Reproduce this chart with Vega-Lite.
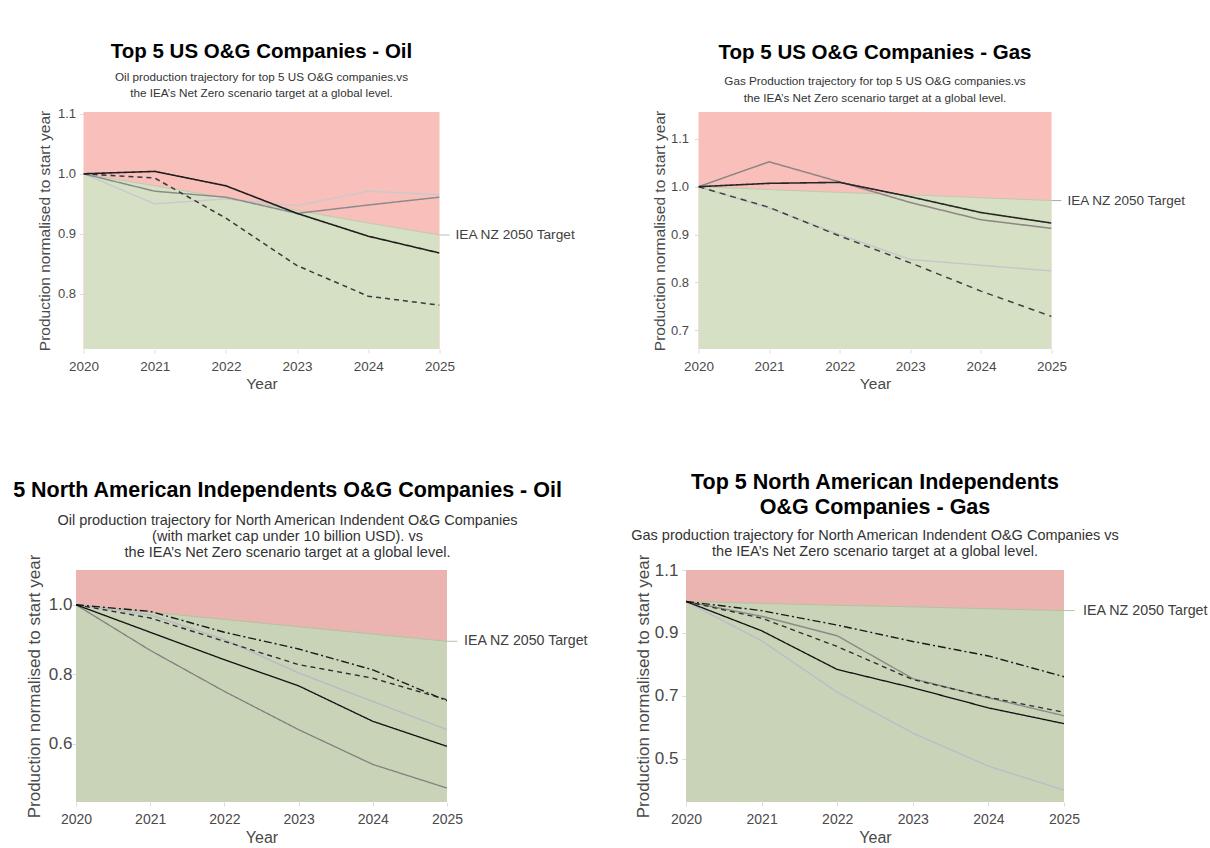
{
  "$schema": "https://vega.github.io/schema/vega-lite/v6.json",
  "background": "white",
  "padding": {"left": 12, "top": 41, "right": 0, "bottom": 0},
  "spacing": 41,
  "resolve": {"scale": {"color": "independent", "strokeDash": "independent", "strokeWidth": "independent"}},
  "config": {
    "font": "Liberation Sans",
    "view": {"stroke": null},
    "axis": {"grid": false, "domain": false, "ticks": true, "tickColor": "#dcdcdc", "tickSize": 4, "labelColor": "#4a4a4a", "titleColor": "#4a4a4a", "titleFontWeight": "normal", "labelFont": "Liberation Sans", "titleFont": "Liberation Sans", "labelFlush": false},
    "title": {"color": "#000000", "fontWeight": "bold", "subtitleColor": "#333333", "anchor": "middle", "frame": "group", "font": "Liberation Sans", "subtitleFont": "Liberation Sans"}
  },
  "datasets": {
    "oilUS": [
      {"Year": 2020, "Company": "D", "Production": 1.0},
      {"Year": 2021, "Company": "D", "Production": 0.95},
      {"Year": 2022, "Company": "D", "Production": 0.958},
      {"Year": 2023, "Company": "D", "Production": 0.947},
      {"Year": 2024, "Company": "D", "Production": 0.971},
      {"Year": 2025, "Company": "D", "Production": 0.965},
      {"Year": 2020, "Company": "C", "Production": 1.0},
      {"Year": 2021, "Company": "C", "Production": 0.971},
      {"Year": 2022, "Company": "C", "Production": 0.961},
      {"Year": 2023, "Company": "C", "Production": 0.934},
      {"Year": 2024, "Company": "C", "Production": 0.948},
      {"Year": 2025, "Company": "C", "Production": 0.961},
      {"Year": 2020, "Company": "B", "Production": 1.0},
      {"Year": 2021, "Company": "B", "Production": 0.993},
      {"Year": 2022, "Company": "B", "Production": 0.926},
      {"Year": 2023, "Company": "B", "Production": 0.847},
      {"Year": 2024, "Company": "B", "Production": 0.796},
      {"Year": 2025, "Company": "B", "Production": 0.781},
      {"Year": 2020, "Company": "A", "Production": 1.0},
      {"Year": 2021, "Company": "A", "Production": 1.004},
      {"Year": 2022, "Company": "A", "Production": 0.98},
      {"Year": 2023, "Company": "A", "Production": 0.934},
      {"Year": 2024, "Company": "A", "Production": 0.896},
      {"Year": 2025, "Company": "A", "Production": 0.868}
    ],
    "targetOilUS": [
      {"Year": 2020, "Target": 1.0},
      {"Year": 2021, "Target": 0.98},
      {"Year": 2022, "Target": 0.96},
      {"Year": 2023, "Target": 0.939},
      {"Year": 2024, "Target": 0.918},
      {"Year": 2025, "Target": 0.898}
    ],
    "gasUS": [
      {"Year": 2020, "Company": "D", "Production": 1.0},
      {"Year": 2021, "Company": "D", "Production": 0.955},
      {"Year": 2022, "Company": "D", "Production": 0.9},
      {"Year": 2023, "Company": "D", "Production": 0.848},
      {"Year": 2024, "Company": "D", "Production": 0.836},
      {"Year": 2025, "Company": "D", "Production": 0.824},
      {"Year": 2020, "Company": "B", "Production": 1.0},
      {"Year": 2021, "Company": "B", "Production": 1.052},
      {"Year": 2022, "Company": "B", "Production": 1.01},
      {"Year": 2023, "Company": "B", "Production": 0.967},
      {"Year": 2024, "Company": "B", "Production": 0.931},
      {"Year": 2025, "Company": "B", "Production": 0.913},
      {"Year": 2020, "Company": "C", "Production": 1.0},
      {"Year": 2021, "Company": "C", "Production": 0.957},
      {"Year": 2022, "Company": "C", "Production": 0.897},
      {"Year": 2023, "Company": "C", "Production": 0.841},
      {"Year": 2024, "Company": "C", "Production": 0.782},
      {"Year": 2025, "Company": "C", "Production": 0.729},
      {"Year": 2020, "Company": "A", "Production": 1.0},
      {"Year": 2021, "Company": "A", "Production": 1.007},
      {"Year": 2022, "Company": "A", "Production": 1.009},
      {"Year": 2023, "Company": "A", "Production": 0.979},
      {"Year": 2024, "Company": "A", "Production": 0.946},
      {"Year": 2025, "Company": "A", "Production": 0.924}
    ],
    "targetGasUS": [
      {"Year": 2020, "Target": 1.0},
      {"Year": 2021, "Target": 0.994},
      {"Year": 2022, "Target": 0.988},
      {"Year": 2023, "Target": 0.983},
      {"Year": 2024, "Target": 0.977},
      {"Year": 2025, "Target": 0.971}
    ],
    "oilNA": [
      {"Year": 2020, "Company": "C", "Production": 1.0},
      {"Year": 2021, "Company": "C", "Production": 0.971},
      {"Year": 2022, "Company": "C", "Production": 0.9},
      {"Year": 2023, "Company": "C", "Production": 0.804},
      {"Year": 2024, "Company": "C", "Production": 0.722},
      {"Year": 2025, "Company": "C", "Production": 0.641},
      {"Year": 2020, "Company": "E", "Production": 1.0},
      {"Year": 2021, "Company": "E", "Production": 0.869},
      {"Year": 2022, "Company": "E", "Production": 0.751},
      {"Year": 2023, "Company": "E", "Production": 0.641},
      {"Year": 2024, "Company": "E", "Production": 0.541},
      {"Year": 2025, "Company": "E", "Production": 0.473},
      {"Year": 2020, "Company": "B", "Production": 1.0},
      {"Year": 2021, "Company": "B", "Production": 0.962},
      {"Year": 2022, "Company": "B", "Production": 0.895},
      {"Year": 2023, "Company": "B", "Production": 0.828},
      {"Year": 2024, "Company": "B", "Production": 0.789},
      {"Year": 2025, "Company": "B", "Production": 0.727},
      {"Year": 2020, "Company": "A", "Production": 1.0},
      {"Year": 2021, "Company": "A", "Production": 0.981},
      {"Year": 2022, "Company": "A", "Production": 0.921},
      {"Year": 2023, "Company": "A", "Production": 0.873},
      {"Year": 2024, "Company": "A", "Production": 0.813},
      {"Year": 2025, "Company": "A", "Production": 0.724},
      {"Year": 2020, "Company": "D", "Production": 1.0},
      {"Year": 2021, "Company": "D", "Production": 0.921},
      {"Year": 2022, "Company": "D", "Production": 0.842},
      {"Year": 2023, "Company": "D", "Production": 0.767},
      {"Year": 2024, "Company": "D", "Production": 0.665},
      {"Year": 2025, "Company": "D", "Production": 0.593}
    ],
    "targetOilNA": [
      {"Year": 2020, "Target": 1.0},
      {"Year": 2021, "Target": 0.979},
      {"Year": 2022, "Target": 0.958},
      {"Year": 2023, "Target": 0.937},
      {"Year": 2024, "Target": 0.916},
      {"Year": 2025, "Target": 0.895}
    ],
    "gasNA": [
      {"Year": 2020, "Company": "E", "Production": 1.0},
      {"Year": 2021, "Company": "E", "Production": 0.875},
      {"Year": 2022, "Company": "E", "Production": 0.712},
      {"Year": 2023, "Company": "E", "Production": 0.582},
      {"Year": 2024, "Company": "E", "Production": 0.477},
      {"Year": 2025, "Company": "E", "Production": 0.401},
      {"Year": 2020, "Company": "B", "Production": 1.0},
      {"Year": 2021, "Company": "B", "Production": 0.953},
      {"Year": 2022, "Company": "B", "Production": 0.891},
      {"Year": 2023, "Company": "B", "Production": 0.755},
      {"Year": 2024, "Company": "B", "Production": 0.694},
      {"Year": 2025, "Company": "B", "Production": 0.637},
      {"Year": 2020, "Company": "C", "Production": 1.0},
      {"Year": 2021, "Company": "C", "Production": 0.947},
      {"Year": 2022, "Company": "C", "Production": 0.857},
      {"Year": 2023, "Company": "C", "Production": 0.752},
      {"Year": 2024, "Company": "C", "Production": 0.696},
      {"Year": 2025, "Company": "C", "Production": 0.648},
      {"Year": 2020, "Company": "A", "Production": 1.0},
      {"Year": 2021, "Company": "A", "Production": 0.971},
      {"Year": 2022, "Company": "A", "Production": 0.925},
      {"Year": 2023, "Company": "A", "Production": 0.873},
      {"Year": 2024, "Company": "A", "Production": 0.827},
      {"Year": 2025, "Company": "A", "Production": 0.761},
      {"Year": 2020, "Company": "D", "Production": 1.0},
      {"Year": 2021, "Company": "D", "Production": 0.907},
      {"Year": 2022, "Company": "D", "Production": 0.784},
      {"Year": 2023, "Company": "D", "Production": 0.726},
      {"Year": 2024, "Company": "D", "Production": 0.662},
      {"Year": 2025, "Company": "D", "Production": 0.612}
    ],
    "targetGasNA": [
      {"Year": 2020, "Target": 1.0},
      {"Year": 2021, "Target": 0.994},
      {"Year": 2022, "Target": 0.988},
      {"Year": 2023, "Target": 0.983},
      {"Year": 2024, "Target": 0.977},
      {"Year": 2025, "Target": 0.971}
    ]
  },
  "hconcat": [
    {
      "vconcat": [
        {
          "width": 356, "height": 237,
          "view": {"fill": "#f9bfbb", "stroke": null},
          "title": {"text": "Top 5 US O&G Companies - Oil", "subtitle": ["Oil production trajectory for top 5 US O&G companies.vs", "the IEA’s Net Zero scenario target at a global level."], "fontSize": 20.5, "subtitleFontSize": 11.7, "subtitleLineHeight": 16, "subtitlePadding": 10, "offset": 8},
          "encoding": {
            "x": {"field": "Year", "type": "quantitative", "scale": {"domain": [2020, 2025], "nice": false, "zero": false}, "axis": {"values": [2020, 2021, 2022, 2023, 2024, 2025], "format": "d", "title": "Year", "labelFontSize": 13.5, "titleFontSize": 15.5, "labelPadding": 6, "titlePadding": 4}}
          },
          "layer": [
            {"data": {"name": "targetOilUS"}, "mark": {"type": "area", "color": "#d6e0c5", "clip": true},
             "encoding": {"y": {"field": "Target", "type": "quantitative", "title": "Production normalised to start year", "scale": {"domain": [0.708, 1.103], "nice": false, "zero": false}, "axis": {"values": [0.8, 0.9, 1.0, 1.1], "format": ".1f", "labelFontSize": 13, "titleFontSize": 15.5, "labelPadding": 4, "titlePadding": 5}}}},
            {"data": {"name": "targetOilUS"}, "mark": {"type": "line", "color": "#bdcca9", "strokeWidth": 1, "clip": true},
             "encoding": {"y": {"field": "Target", "type": "quantitative", "title": "Production normalised to start year"}}},
            {"data": {"name": "oilUS"}, "mark": {"type": "line", "clip": true},
             "encoding": {
               "y": {"field": "Production", "type": "quantitative", "title": "Production normalised to start year"},
               "color": {"field": "Company", "type": "nominal", "legend": null, "scale": {"domain": ["A", "B", "C", "D"], "range": ["#1e1e1e", "#3a3a3a", "#8a8a8a", "#c9c9cd"]}},
               "strokeDash": {"field": "Company", "type": "nominal", "legend": null, "scale": {"domain": ["A", "B", "C", "D"], "range": [[1, 0], [5, 4], [1, 0], [1, 0]]}},
               "strokeWidth": {"field": "Company", "type": "nominal", "legend": null, "scale": {"domain": ["A", "B", "C", "D"], "range": [1.6, 1.4, 1.3, 1.3]}}
             }},
            {"data": {"name": "targetOilUS"}, "transform": [{"filter": "datum.Year == 2025"}], "mark": {"type": "rule", "color": "#b5c4a5", "strokeWidth": 1},
             "encoding": {"x2": {"datum": 2025.14}, "y": {"field": "Target", "type": "quantitative", "title": "Production normalised to start year"}}},
            {"data": {"name": "targetOilUS"}, "transform": [{"filter": "datum.Year == 2025"}], "mark": {"type": "text", "align": "left", "baseline": "middle", "dx": 16, "fontSize": 13.7, "color": "#404040"},
             "encoding": {"y": {"field": "Target", "type": "quantitative", "title": "Production normalised to start year"}, "text": {"value": "IEA NZ 2050 Target"}}}
          ]
        },
        {
          "width": 371, "height": 232,
          "view": {"fill": "#ecb4b0", "stroke": null},
          "title": {"text": "5 North American Independents O&G Companies - Oil", "subtitle": ["Oil production trajectory for North American Indendent O&G Companies", "(with market cap under 10 billion USD). vs", "the IEA’s Net Zero scenario target at a global level."], "fontSize": 21.5, "subtitleFontSize": 14.5, "subtitleLineHeight": 16, "subtitlePadding": 12, "offset": -5, "dx": 26},
          "encoding": {
            "x": {"field": "Year", "type": "quantitative", "scale": {"domain": [2020, 2025], "nice": false, "zero": false}, "axis": {"values": [2020, 2021, 2022, 2023, 2024, 2025], "format": "d", "title": "Year", "labelFontSize": 14, "titleFontSize": 16, "labelPadding": 6, "titlePadding": 3}}
          },
          "layer": [
            {"data": {"name": "targetOilNA"}, "mark": {"type": "area", "color": "#c9d3b7", "clip": true},
             "encoding": {"y": {"field": "Target", "type": "quantitative", "title": "Production normalised to start year", "scale": {"domain": [0.433, 1.1], "nice": false, "zero": false}, "axis": {"values": [0.6, 0.8, 1.0], "format": ".1f", "labelFontSize": 17, "titleFontSize": 17, "labelPadding": 0, "titlePadding": 5}}}},
            {"data": {"name": "targetOilNA"}, "mark": {"type": "line", "color": "#b3c39d", "strokeWidth": 1, "clip": true},
             "encoding": {"y": {"field": "Target", "type": "quantitative", "title": "Production normalised to start year"}}},
            {"data": {"name": "oilNA"}, "mark": {"type": "line", "clip": true},
             "encoding": {
               "y": {"field": "Production", "type": "quantitative", "title": "Production normalised to start year"},
               "color": {"field": "Company", "type": "nominal", "legend": null, "scale": {"domain": ["A", "B", "C", "D", "E"], "range": ["#1a1a1a", "#2e2e2e", "#b9b9c4", "#111111", "#808080"]}},
               "strokeDash": {"field": "Company", "type": "nominal", "legend": null, "scale": {"domain": ["A", "B", "C", "D", "E"], "range": [[8, 3, 2, 3], [5, 4], [1, 0], [1, 0], [1, 0]]}},
               "strokeWidth": {"field": "Company", "type": "nominal", "legend": null, "scale": {"domain": ["A", "B", "C", "D", "E"], "range": [1.4, 1.3, 1.3, 1.6, 1.3]}}
             }},
            {"data": {"name": "targetOilNA"}, "transform": [{"filter": "datum.Year == 2025"}], "mark": {"type": "rule", "color": "#b5c4a5", "strokeWidth": 1},
             "encoding": {"x2": {"datum": 2025.14}, "y": {"field": "Target", "type": "quantitative", "title": "Production normalised to start year"}}},
            {"data": {"name": "targetOilNA"}, "transform": [{"filter": "datum.Year == 2025"}], "mark": {"type": "text", "align": "left", "baseline": "middle", "dx": 17, "fontSize": 14.2, "color": "#404040"},
             "encoding": {"y": {"field": "Target", "type": "quantitative", "title": "Production normalised to start year"}, "text": {"value": "IEA NZ 2050 Target"}}}
          ]
        }
      ],
      "spacing": 221,
      "bounds": "flush",
      "center": true,
      "resolve": {"scale": {"color": "independent", "strokeDash": "independent", "strokeWidth": "independent"}}
    },
    {
      "vconcat": [
        {
          "width": 353, "height": 237,
          "view": {"fill": "#f9bfbb", "stroke": null},
          "title": {"text": "Top 5 US O&G Companies - Gas", "subtitle": ["Gas Production trajectory for top 5 US O&G companies.vs", "the IEA’s Net Zero scenario target at a global level."], "fontSize": 20.5, "subtitleFontSize": 11.7, "subtitleLineHeight": 17, "subtitlePadding": 12, "offset": 6},
          "encoding": {
            "x": {"field": "Year", "type": "quantitative", "scale": {"domain": [2020, 2025], "nice": false, "zero": false}, "axis": {"values": [2020, 2021, 2022, 2023, 2024, 2025], "format": "d", "title": "Year", "labelFontSize": 13.5, "titleFontSize": 15.5, "labelPadding": 6, "titlePadding": 4}}
          },
          "layer": [
            {"data": {"name": "targetGasUS"}, "mark": {"type": "area", "color": "#d6e0c5", "clip": true},
             "encoding": {"y": {"field": "Target", "type": "quantitative", "title": "Production normalised to start year", "scale": {"domain": [0.661, 1.156], "nice": false, "zero": false}, "axis": {"values": [0.7, 0.8, 0.9, 1.0, 1.1], "format": ".1f", "labelFontSize": 13, "titleFontSize": 15.5, "labelPadding": 6, "titlePadding": 3}}}},
            {"data": {"name": "targetGasUS"}, "mark": {"type": "line", "color": "#bdcca9", "strokeWidth": 1, "clip": true},
             "encoding": {"y": {"field": "Target", "type": "quantitative", "title": "Production normalised to start year"}}},
            {"data": {"name": "gasUS"}, "mark": {"type": "line", "clip": true},
             "encoding": {
               "y": {"field": "Production", "type": "quantitative", "title": "Production normalised to start year"},
               "color": {"field": "Company", "type": "nominal", "legend": null, "scale": {"domain": ["A", "B", "C", "D"], "range": ["#262626", "#8e8686", "#404040", "#c6c6ca"]}},
               "strokeDash": {"field": "Company", "type": "nominal", "legend": null, "scale": {"domain": ["A", "B", "C", "D"], "range": [[1, 0], [1, 0], [6, 5], [1, 0]]}},
               "strokeWidth": {"field": "Company", "type": "nominal", "legend": null, "scale": {"domain": ["A", "B", "C", "D"], "range": [1.6, 1.4, 1.5, 1.3]}}
             }},
            {"data": {"name": "targetGasUS"}, "transform": [{"filter": "datum.Year == 2025"}], "mark": {"type": "rule", "color": "#a8a8a8", "strokeWidth": 1},
             "encoding": {"x2": {"datum": 2025.14}, "y": {"field": "Target", "type": "quantitative", "title": "Production normalised to start year"}}},
            {"data": {"name": "targetGasUS"}, "transform": [{"filter": "datum.Year == 2025"}], "mark": {"type": "text", "align": "left", "baseline": "middle", "dx": 16, "fontSize": 13.5, "color": "#404040"},
             "encoding": {"y": {"field": "Target", "type": "quantitative", "title": "Production normalised to start year"}, "text": {"value": "IEA NZ 2050 Target"}}}
          ]
        },
        {
          "width": 378, "height": 232,
          "view": {"fill": "#ecb4b0", "stroke": null},
          "title": {"text": ["Top 5 North American Independents", "O&G Companies - Gas"], "subtitle": ["Gas production trajectory for North American Indendent O&G Companies vs", "the IEA’s Net Zero scenario target at a global level."], "fontSize": 21.5, "lineHeight": 25, "subtitleFontSize": 14.5, "subtitleLineHeight": 16, "subtitlePadding": 10, "offset": -4},
          "encoding": {
            "x": {"field": "Year", "type": "quantitative", "scale": {"domain": [2020, 2025], "nice": false, "zero": false}, "axis": {"values": [2020, 2021, 2022, 2023, 2024, 2025], "format": "d", "title": "Year", "labelFontSize": 14, "titleFontSize": 16, "labelPadding": 6, "titlePadding": 3}}
          },
          "layer": [
            {"data": {"name": "targetGasNA"}, "mark": {"type": "area", "color": "#c9d3b7", "clip": true},
             "encoding": {"y": {"field": "Target", "type": "quantitative", "title": "Production normalised to start year", "scale": {"domain": [0.363, 1.1], "nice": false, "zero": false}, "axis": {"values": [0.5, 0.7, 0.9, 1.1], "format": ".1f", "labelFontSize": 17, "titleFontSize": 17, "labelPadding": 4, "titlePadding": 2}}}},
            {"data": {"name": "targetGasNA"}, "mark": {"type": "line", "color": "#b3c39d", "strokeWidth": 1, "clip": true},
             "encoding": {"y": {"field": "Target", "type": "quantitative", "title": "Production normalised to start year"}}},
            {"data": {"name": "gasNA"}, "mark": {"type": "line", "clip": true},
             "encoding": {
               "y": {"field": "Production", "type": "quantitative", "title": "Production normalised to start year"},
               "color": {"field": "Company", "type": "nominal", "legend": null, "scale": {"domain": ["A", "B", "C", "D", "E"], "range": ["#1a1a1a", "#8a8a8a", "#2e2e2e", "#111111", "#b8bccb"]}},
               "strokeDash": {"field": "Company", "type": "nominal", "legend": null, "scale": {"domain": ["A", "B", "C", "D", "E"], "range": [[8, 3, 2, 3], [1, 0], [5, 4], [1, 0], [1, 0]]}},
               "strokeWidth": {"field": "Company", "type": "nominal", "legend": null, "scale": {"domain": ["A", "B", "C", "D", "E"], "range": [1.4, 1.3, 1.3, 1.6, 1.2]}}
             }},
            {"data": {"name": "targetGasNA"}, "transform": [{"filter": "datum.Year == 2025"}], "mark": {"type": "rule", "color": "#b5c4a5", "strokeWidth": 1},
             "encoding": {"x2": {"datum": 2025.14}, "y": {"field": "Target", "type": "quantitative", "title": "Production normalised to start year"}}},
            {"data": {"name": "targetGasNA"}, "transform": [{"filter": "datum.Year == 2025"}], "mark": {"type": "text", "align": "left", "baseline": "middle", "dx": 19, "fontSize": 14.3, "color": "#404040"},
             "encoding": {"y": {"field": "Target", "type": "quantitative", "title": "Production normalised to start year"}, "text": {"value": "IEA NZ 2050 Target"}}}
          ]
        }
      ],
      "spacing": 221,
      "bounds": "flush",
      "center": true,
      "resolve": {"scale": {"color": "independent", "strokeDash": "independent", "strokeWidth": "independent"}}
    }
  ]
}
